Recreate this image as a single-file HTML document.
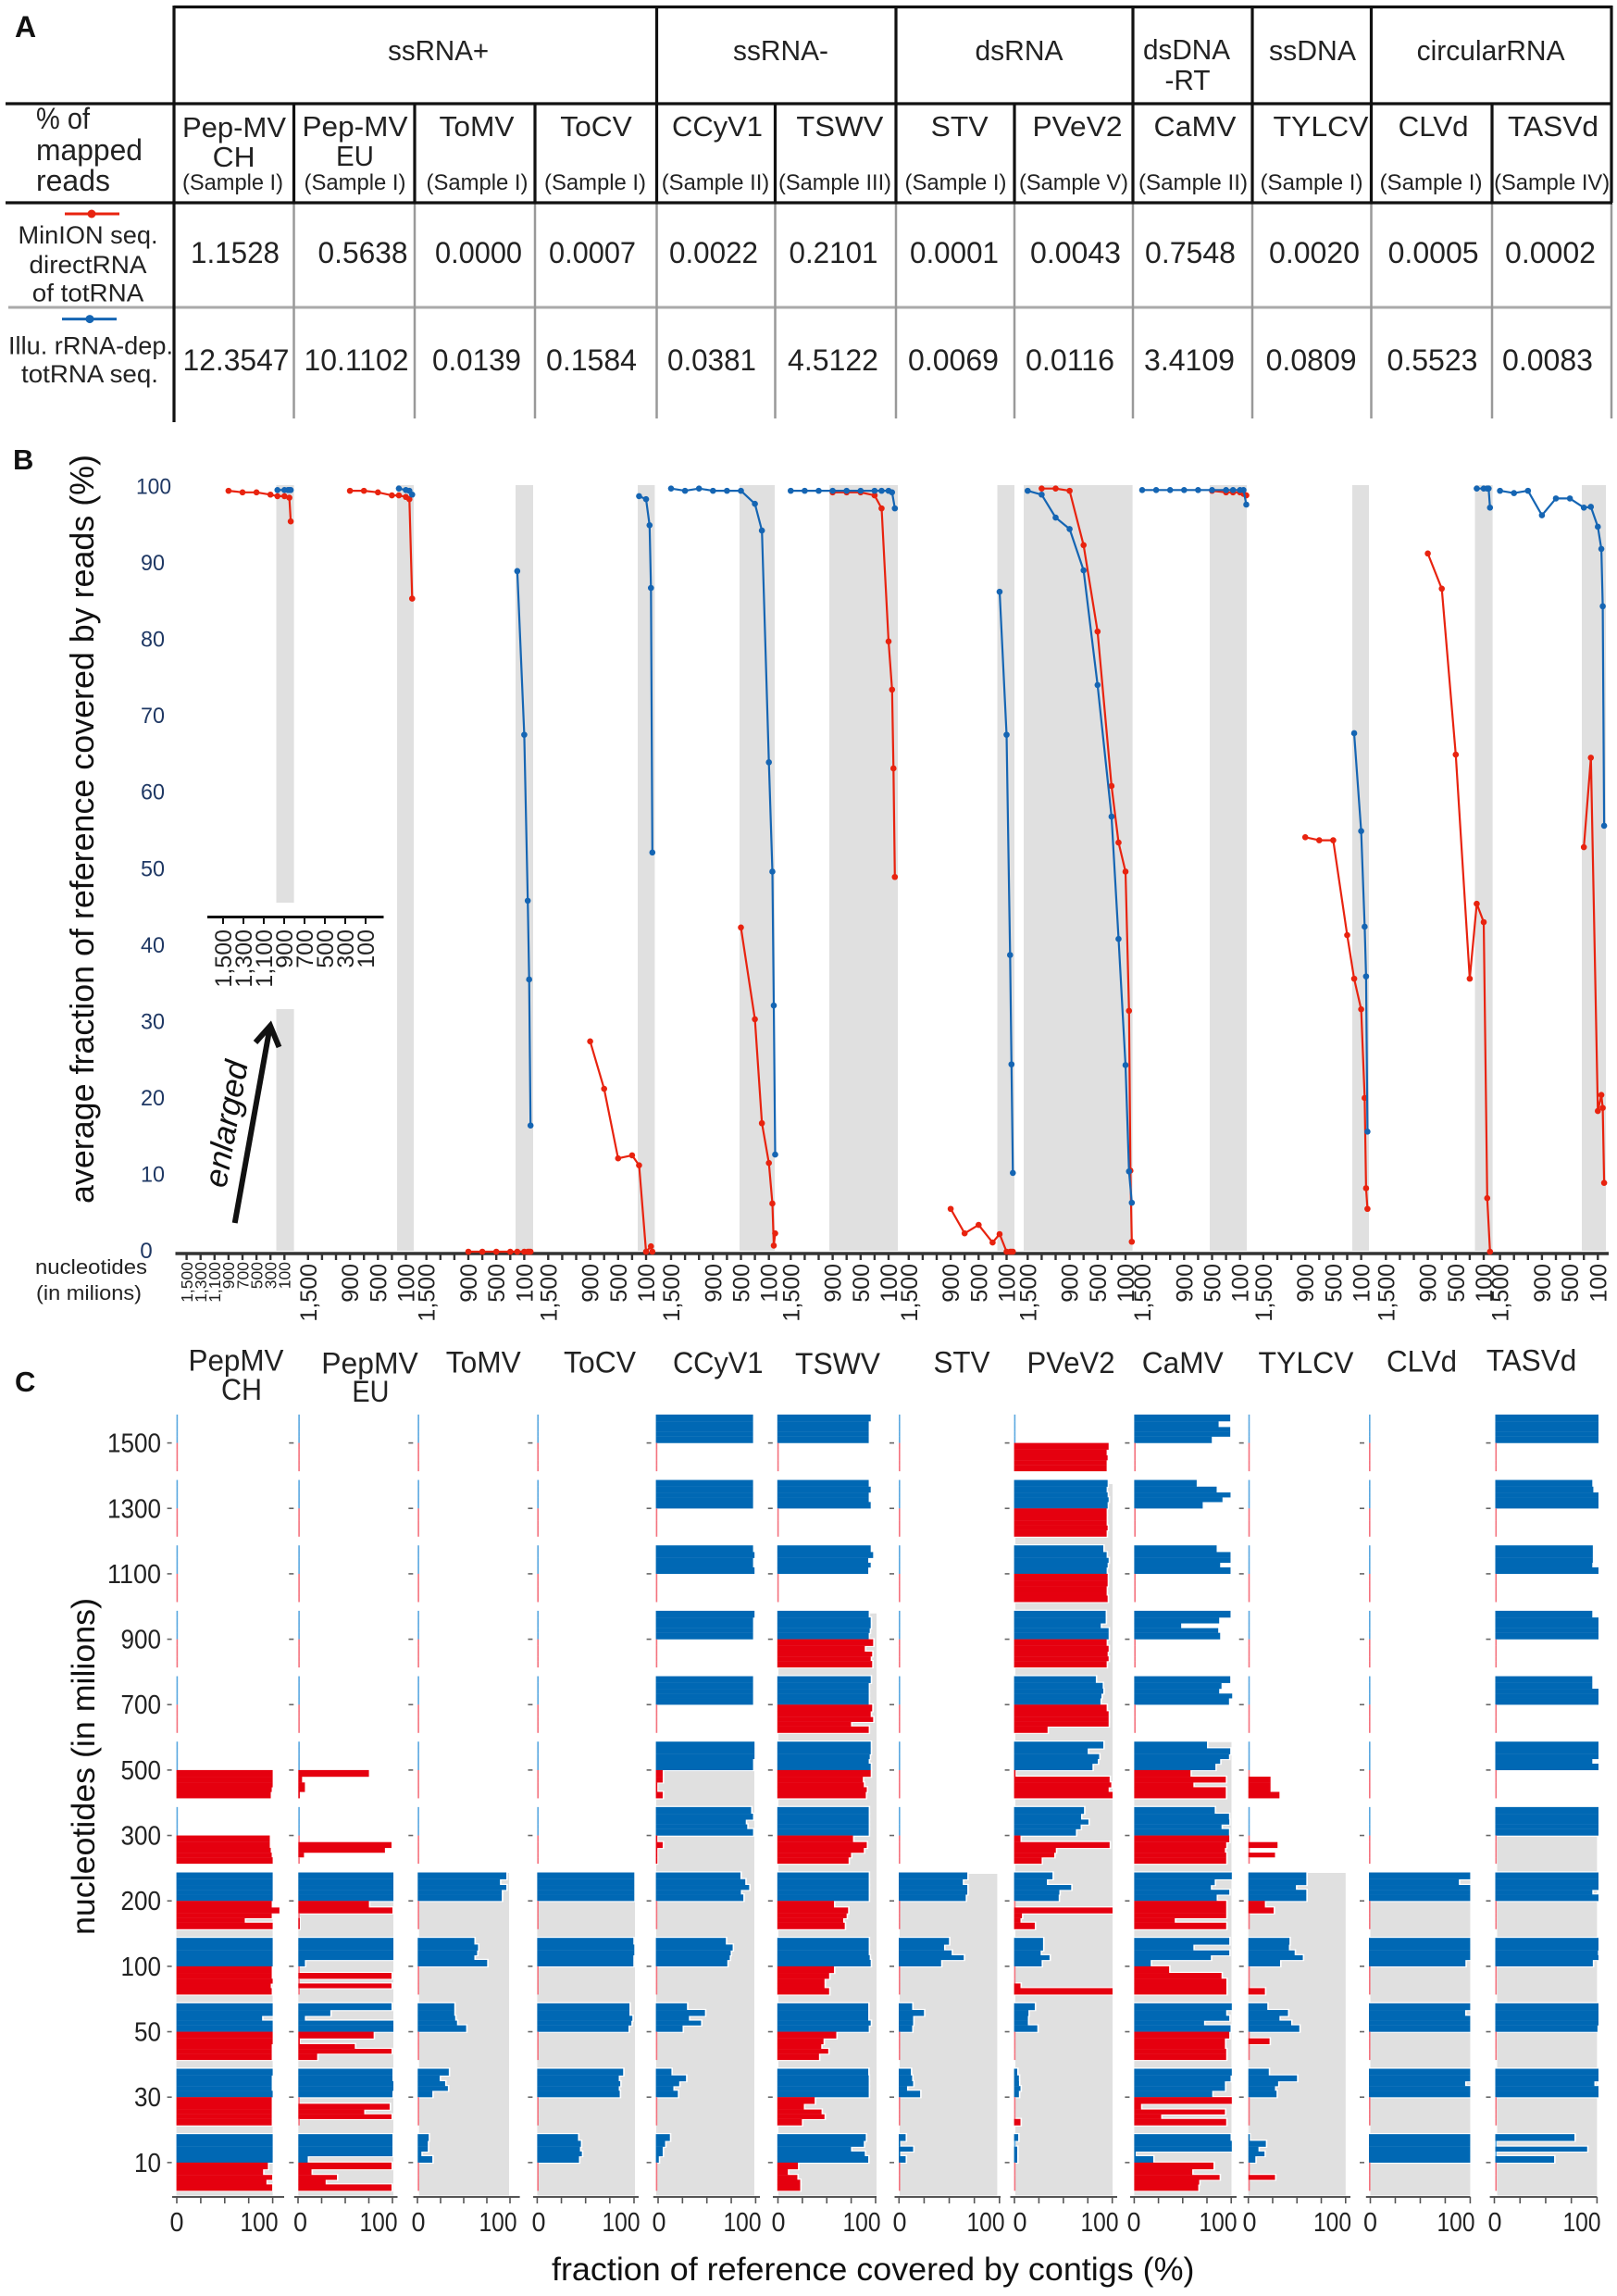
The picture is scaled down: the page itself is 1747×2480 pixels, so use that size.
<!DOCTYPE html>
<html lang="en">
<head>
<meta charset="utf-8">
<title>Virus coverage figure</title>
<style>
html,body{margin:0;padding:0;background:#fff;}
svg{display:block;font-family:"Liberation Sans",sans-serif;}
#table-a text{fill:#222;}
</style>
</head>
<body>
<svg id="figure" xmlns="http://www.w3.org/2000/svg" width="1747" height="2480" viewBox="0 0 1747 2480">
<rect x="0" y="0" width="1747" height="2480" fill="#fff"/>
<text x="16" y="40" font-size="32" font-weight="bold" fill="#111">A</text>
<text x="14" y="507" font-size="31" font-weight="bold" fill="#111">B</text>
<text x="16" y="1503" font-size="31" font-weight="bold" fill="#111">C</text>

<g id="table-a">
<g stroke="#999" stroke-width="2.5">
<line x1="9" y1="332" x2="1741" y2="332" stroke="#aaa" stroke-width="3"/>
<line x1="317.5" y1="220" x2="317.5" y2="452"/>
<line x1="448" y1="220" x2="448" y2="452"/>
<line x1="578" y1="220" x2="578" y2="452"/>
<line x1="709.5" y1="220" x2="709.5" y2="452"/>
<line x1="837.5" y1="220" x2="837.5" y2="452"/>
<line x1="968" y1="220" x2="968" y2="452"/>
<line x1="1096" y1="220" x2="1096" y2="452"/>
<line x1="1224" y1="220" x2="1224" y2="452"/>
<line x1="1353" y1="220" x2="1353" y2="452"/>
<line x1="1481.5" y1="220" x2="1481.5" y2="452"/>
<line x1="1612" y1="220" x2="1612" y2="452"/>
<line x1="1741" y1="220" x2="1741" y2="452"/>
</g>
<g stroke="#111" stroke-width="3.2">
<line x1="188" y1="7.5" x2="1742" y2="7.5"/>
<line x1="6" y1="112" x2="1742" y2="112"/>
<line x1="6" y1="219" x2="1742" y2="219"/>
<line x1="188" y1="6" x2="188" y2="456"/>
<line x1="709.5" y1="6" x2="709.5" y2="219"/>
<line x1="968" y1="6" x2="968" y2="219"/>
<line x1="1224" y1="6" x2="1224" y2="219"/>
<line x1="1353" y1="6" x2="1353" y2="219"/>
<line x1="1481.5" y1="6" x2="1481.5" y2="219"/>
<line x1="1741" y1="6" x2="1741" y2="219"/>
<line x1="317.5" y1="112" x2="317.5" y2="219"/>
<line x1="448" y1="112" x2="448" y2="219"/>
<line x1="578" y1="112" x2="578" y2="219"/>
<line x1="837.5" y1="112" x2="837.5" y2="219"/>
<line x1="1096" y1="112" x2="1096" y2="219"/>
<line x1="1612" y1="112" x2="1612" y2="219"/>
</g>
<g font-size="31" text-anchor="middle">
<text x="473.6" y="65" textLength="109" lengthAdjust="spacingAndGlyphs">ssRNA+</text>
<text x="843.5" y="65" textLength="103" lengthAdjust="spacingAndGlyphs">ssRNA-</text>
<text x="1101" y="65" textLength="95" lengthAdjust="spacingAndGlyphs">dsRNA</text>
<text x="1282" y="64" textLength="94" lengthAdjust="spacingAndGlyphs">dsDNA</text>
<text x="1283" y="97" textLength="49" lengthAdjust="spacingAndGlyphs">-RT</text>
<text x="1418" y="65" textLength="94" lengthAdjust="spacingAndGlyphs">ssDNA</text>
<text x="1610.6" y="65" textLength="160" lengthAdjust="spacingAndGlyphs">circularRNA</text>
</g>
<g font-size="32">
<text x="39" y="139" textLength="58" lengthAdjust="spacingAndGlyphs">% of</text>
<text x="39" y="173" textLength="115" lengthAdjust="spacingAndGlyphs">mapped</text>
<text x="39" y="206" textLength="80" lengthAdjust="spacingAndGlyphs">reads</text>
</g>
<g font-size="31" text-anchor="middle">
<text x="253" y="148" textLength="112" lengthAdjust="spacingAndGlyphs">Pep-MV</text>
<text x="252.6" y="180" textLength="46" lengthAdjust="spacingAndGlyphs">CH</text>
<text x="383.5" y="147" textLength="114" lengthAdjust="spacingAndGlyphs">Pep-MV</text>
<text x="383.5" y="179" textLength="41" lengthAdjust="spacingAndGlyphs">EU</text>
<text x="515" y="147" textLength="81" lengthAdjust="spacingAndGlyphs">ToMV</text>
<text x="644" y="147" textLength="77.5" lengthAdjust="spacingAndGlyphs">ToCV</text>
<text x="775" y="147" textLength="98" lengthAdjust="spacingAndGlyphs">CCyV1</text>
<text x="907.4" y="147" textLength="94" lengthAdjust="spacingAndGlyphs">TSWV</text>
<text x="1036.6" y="147" textLength="62" lengthAdjust="spacingAndGlyphs">STV</text>
<text x="1164" y="147" textLength="97" lengthAdjust="spacingAndGlyphs">PVeV2</text>
<text x="1291" y="147" textLength="89" lengthAdjust="spacingAndGlyphs">CaMV</text>
<text x="1427" y="147" textLength="103" lengthAdjust="spacingAndGlyphs">TYLCV</text>
<text x="1548.6" y="147" textLength="76" lengthAdjust="spacingAndGlyphs">CLVd</text>
<text x="1678" y="147" textLength="98" lengthAdjust="spacingAndGlyphs">TASVd</text>
</g>
<g font-size="24" text-anchor="middle">
<text x="251.5" y="205" textLength="109" lengthAdjust="spacingAndGlyphs">(Sample I)</text>
<text x="383.5" y="205" textLength="110" lengthAdjust="spacingAndGlyphs">(Sample I)</text>
<text x="515.5" y="205" textLength="110" lengthAdjust="spacingAndGlyphs">(Sample I)</text>
<text x="643" y="205" textLength="110" lengthAdjust="spacingAndGlyphs">(Sample I)</text>
<text x="773" y="205" textLength="116.5" lengthAdjust="spacingAndGlyphs">(Sample II)</text>
<text x="902" y="205" textLength="122" lengthAdjust="spacingAndGlyphs">(Sample III)</text>
<text x="1032.5" y="205" textLength="110" lengthAdjust="spacingAndGlyphs">(Sample I)</text>
<text x="1160" y="205" textLength="118" lengthAdjust="spacingAndGlyphs">(Sample V)</text>
<text x="1289" y="205" textLength="118" lengthAdjust="spacingAndGlyphs">(Sample II)</text>
<text x="1417" y="205" textLength="111" lengthAdjust="spacingAndGlyphs">(Sample I)</text>
<text x="1546" y="205" textLength="111" lengthAdjust="spacingAndGlyphs">(Sample I)</text>
<text x="1676.6" y="205" textLength="125" lengthAdjust="spacingAndGlyphs">(Sample IV)</text>
</g>
<g>
<line x1="70" y1="231" x2="129" y2="231" stroke="#e8230f" stroke-width="3"/>
<circle cx="99" cy="231" r="4.5" fill="#e8230f"/>
</g>
<g font-size="27" text-anchor="middle">
<text x="95" y="263" textLength="151" lengthAdjust="spacingAndGlyphs">MinION seq.</text>
<text x="95" y="295" textLength="127" lengthAdjust="spacingAndGlyphs">directRNA</text>
<text x="95" y="325.5" textLength="120.5" lengthAdjust="spacingAndGlyphs">of totRNA</text>
</g>
<g>
<line x1="67" y1="344.6" x2="126" y2="344.6" stroke="#1565b3" stroke-width="3"/>
<circle cx="97" cy="344.6" r="4.5" fill="#1565b3"/>
</g>
<g font-size="27" text-anchor="middle">
<text x="98" y="382.5" textLength="178" lengthAdjust="spacingAndGlyphs">Illu. rRNA-dep.</text>
<text x="97" y="413" textLength="148" lengthAdjust="spacingAndGlyphs">totRNA seq.</text>
</g>
<g font-size="32" text-anchor="middle">
<text x="254" y="284" textLength="96" lengthAdjust="spacingAndGlyphs">1.1528</text>
<text x="392" y="284" textLength="97" lengthAdjust="spacingAndGlyphs">0.5638</text>
<text x="517" y="284" textLength="94" lengthAdjust="spacingAndGlyphs">0.0000</text>
<text x="640" y="284" textLength="94" lengthAdjust="spacingAndGlyphs">0.0007</text>
<text x="771" y="284" textLength="96" lengthAdjust="spacingAndGlyphs">0.0022</text>
<text x="900.5" y="284" textLength="96" lengthAdjust="spacingAndGlyphs">0.2101</text>
<text x="1031" y="284" textLength="96" lengthAdjust="spacingAndGlyphs">0.0001</text>
<text x="1162" y="284" textLength="98" lengthAdjust="spacingAndGlyphs">0.0043</text>
<text x="1286" y="284" textLength="98" lengthAdjust="spacingAndGlyphs">0.7548</text>
<text x="1420" y="284" textLength="98" lengthAdjust="spacingAndGlyphs">0.0020</text>
<text x="1548.6" y="284" textLength="98" lengthAdjust="spacingAndGlyphs">0.0005</text>
<text x="1675" y="284" textLength="98" lengthAdjust="spacingAndGlyphs">0.0002</text>
</g>
<g font-size="32" text-anchor="middle">
<text x="255" y="400" textLength="115" lengthAdjust="spacingAndGlyphs">12.3547</text>
<text x="385" y="400" textLength="113" lengthAdjust="spacingAndGlyphs">10.1102</text>
<text x="515" y="400" textLength="96" lengthAdjust="spacingAndGlyphs">0.0139</text>
<text x="639" y="400" textLength="98" lengthAdjust="spacingAndGlyphs">0.1584</text>
<text x="769" y="400" textLength="96" lengthAdjust="spacingAndGlyphs">0.0381</text>
<text x="900" y="400" textLength="98" lengthAdjust="spacingAndGlyphs">4.5122</text>
<text x="1030" y="400" textLength="98" lengthAdjust="spacingAndGlyphs">0.0069</text>
<text x="1156" y="400" textLength="96" lengthAdjust="spacingAndGlyphs">0.0116</text>
<text x="1285" y="400" textLength="98" lengthAdjust="spacingAndGlyphs">3.4109</text>
<text x="1416.6" y="400" textLength="98" lengthAdjust="spacingAndGlyphs">0.0809</text>
<text x="1547.5" y="400" textLength="98" lengthAdjust="spacingAndGlyphs">0.5523</text>
<text x="1672" y="400" textLength="98" lengthAdjust="spacingAndGlyphs">0.0083</text>
</g>
</g>

<g id="panel-b"></g>
<text transform="rotate(-90 101 1300)" x="101" y="1300" font-size="36" fill="#111" textLength="809" lengthAdjust="spacingAndGlyphs">average fraction of reference covered by reads (%)</text>
<text x="38" y="1376" font-size="22" fill="#222" textLength="121" lengthAdjust="spacingAndGlyphs">nucleotides</text>
<text x="39" y="1404" font-size="22" fill="#222" textLength="114" lengthAdjust="spacingAndGlyphs">(in milions)</text>

<g id="panel-c"></g>
<g font-size="32" text-anchor="middle" fill="#222">
<text x="255" y="1480.7" textLength="103" lengthAdjust="spacingAndGlyphs">PepMV</text>
<text x="261" y="1512" textLength="44" lengthAdjust="spacingAndGlyphs">CH</text>
<text x="399.5" y="1483.6" textLength="104.5" lengthAdjust="spacingAndGlyphs">PepMV</text>
<text x="400.4" y="1514" textLength="40" lengthAdjust="spacingAndGlyphs">EU</text>
<text x="522.3" y="1482.5" textLength="81" lengthAdjust="spacingAndGlyphs">ToMV</text>
<text x="648" y="1482.5" textLength="78" lengthAdjust="spacingAndGlyphs">ToCV</text>
<text x="775.7" y="1483" textLength="97.5" lengthAdjust="spacingAndGlyphs">CCyV1</text>
<text x="905" y="1484" textLength="92" lengthAdjust="spacingAndGlyphs">TSWV</text>
<text x="1039" y="1482.7" textLength="61" lengthAdjust="spacingAndGlyphs">STV</text>
<text x="1157" y="1483" textLength="95" lengthAdjust="spacingAndGlyphs">PVeV2</text>
<text x="1277.8" y="1483" textLength="88" lengthAdjust="spacingAndGlyphs">CaMV</text>
<text x="1411" y="1483" textLength="103" lengthAdjust="spacingAndGlyphs">TYLCV</text>
<text x="1536" y="1481.7" textLength="76" lengthAdjust="spacingAndGlyphs">CLVd</text>
<text x="1654.5" y="1480.7" textLength="97.6" lengthAdjust="spacingAndGlyphs">TASVd</text>
</g>
<text transform="rotate(-90 101.8 2090)" x="101.8" y="2090" font-size="35" fill="#111" textLength="364" lengthAdjust="spacingAndGlyphs">nucleotides (in milions)</text>
<text x="596" y="2463" font-size="35" fill="#111" textLength="694.5" lengthAdjust="spacingAndGlyphs">fraction of reference covered by contigs (%)</text>
</svg>

<script>
const N = null;
const nucleotides = [1500,1300,1100,900,700,500,300,200,100,50,30,10];
const bYTicks = [0,10,20,30,40,50,60,70,80,90,100];
const bXTicks = [1500,1300,1100,900,700,500,300,100];
const bXBigLabels = [1500,900,500,100];
const bInsetLabels = ['1,500','1,300','1,100','900','700','500','300','100'];

const bRedPepMVCH = [N,N,N,99.5,99.3,99.3,99,98.8,98.8,N,98.6,95.5];
const bBluePepMVCH = [N,N,N,N,N,N,N,99.6,99.6,99.6,99.6,99.6];
const bRedPepMVEU = [N,N,N,99.5,99.5,99.3,98.9,98.9,98.7,98.4,N,85.4];
const bBluePepMVEU = [N,N,N,N,N,N,N,99.8,99.6,99.5,N,99];
const bRedToMV = [N,N,N,0,0,0,0,0,0,0,0,0];
const bBlueToMV = [N,N,N,N,N,N,N,89,67.6,45.9,35.6,16.5];
const bRedToCV = [N,N,N,27.5,21.3,12.2,12.6,11.3,0,N,0.7,0];
const bBlueToCV = [N,N,N,N,N,N,N,98.8,98.4,95,86.8,52.2];
const bRedCCyV1 = [N,N,N,N,N,42.4,30.4,16.8,11.6,6.3,0.8,2.4];
const bBlueCCyV1 = [99.8,99.5,99.8,99.5,99.5,99.5,97.8,94.3,64,49.7,32.2,12.7];
const bRedTSWV = [N,N,N,99.3,99.3,99.3,98.9,97.2,79.8,73.5,63.2,49];
const bBlueTSWV = [99.5,99.5,99.5,99.5,99.5,99.5,99.5,99.5,99.5,99.3,N,97.2];
const bRedSTV = [N,N,N,5.6,2.4,3.5,1.2,2.3,0,0,0,0];
const bBlueSTV = [N,N,N,N,N,N,N,86.3,67.6,38.8,24.5,10.3];
const bRedPVeV2 = [N,99.8,99.8,99.5,92.4,81.1,60.9,53.5,49.7,31.5,10.6,1.3];
const bBluePVeV2 = [99.5,99,96,94.5,89.1,74.1,56.9,40.9,24.4,10.5,N,6.4];
const bRedCaMV = [N,N,N,N,N,99.5,99.3,99.3,99.3,99.1,N,98.9];
const bBlueCaMV = [99.6,99.6,99.6,99.6,99.6,99.6,99.6,99.6,99.6,99.6,N,97.7];
const bRedTYLCV = [N,N,N,54.2,53.8,53.8,41.4,35.7,31.7,20.1,8.3,5.6];
const bBlueTYLCV = [N,N,N,N,N,N,N,67.8,55,42.5,36,15.7];
const bRedCLVd = [N,N,N,91.3,86.7,65,35.7,45.5,43.1,7,N,0];
const bBlueCLVd = [N,N,N,N,N,N,N,99.8,99.8,99.8,99.8,97.3];
const bRedTASVd = [N,N,N,N,N,N,52.9,64.6,18.4,20.5,18.8,9];
const bBlueTASVd = [99.5,99.2,99.5,96.3,98.5,98.5,97.3,97.4,94.8,91.9,84.4,55.7];

const bRedSeries = [bRedPepMVCH,bRedPepMVEU,bRedToMV,bRedToCV,bRedCCyV1,bRedTSWV,bRedSTV,bRedPVeV2,bRedCaMV,bRedTYLCV,bRedCLVd,bRedTASVd];
const bBlueSeries = [bBluePepMVCH,bBluePepMVEU,bBlueToMV,bBlueToCV,bBlueCCyV1,bBlueTSWV,bBlueSTV,bBluePVeV2,bBlueCaMV,bBlueTYLCV,bBlueCLVd,bBlueTASVd];

const Z = [0,0,0,0,0];
const F = [100,100,100,100,100];
const rowLabels = ['1500','1300','1100','900','700','500','300','200','100','50','30','10'];
const cXTickValues = [0,25,50,75,100];
const cXLabels = ['0','100'];

const cBluePepMVCH = [Z,Z,Z,Z,Z,Z,Z,F,F,[100,100,89,100,100],[100,99,99,99,100],F];
const cRedPepMVCH = [Z,Z,Z,Z,Z,[100,100,100,99,98],[97,97,98,99,100],[99,107,99,71,100],[99,99,100,98,99],[100,100,99,99,99],[99,99,99,99,99],[95,90,99.5,93.5,99.5]];
const cBluePepMVEU = [Z,Z,Z,Z,Z,Z,Z,[101,101,101,101,101],[101,101,101,101,7],[99,34,7,101,101],[100,100,101,101,100],[100,100,100,100,10]];
const cRedPepMVEU = [Z,Z,Z,Z,Z,[75,4,7,7,1],[0,99,92,6,0],[75,100,0,1,1],[0,99,0,99,0],[80,1,60,99,20],[0,97,70,99,0],[99,14,41,29,99]];
const cBlueToMV = [Z,Z,Z,Z,Z,Z,Z,[97,90,97,92,92],[62,66,65,62,76],[40,40,41,43,53],[34,24,30,33,16],[12,11,11,4,16]];
const cRedToMV = [Z,Z,Z,Z,Z,Z,Z,Z,Z,Z,Z,Z];
const cBlueToCV = [Z,Z,Z,Z,Z,Z,Z,F,[99,100,100,99,99],[95,95,98,97,94],[88.5,84,85.5,84,85],[42,45,44,46,43]];
const cRedToCV = [Z,Z,Z,Z,Z,Z,Z,Z,Z,Z,Z,Z];
const cBlueCCyV1 = [F,F,[100,101.5,100,100,101.5],[101.5,100,100,100,100],F,[101.5,101.5,101.5,100,100],[98,100,92.5,94,100],[87,92,96,87.5,90],[72,79,77,76,73.5],[32,50.5,34,46.5,27.5],[16,31,24,18,22.6],[14.4,9.5,7,7,3]];
const cRedCCyV1 = [Z,Z,Z,Z,Z,[7,7,1,1,7],[1,7,1,1,1],Z,Z,Z,Z,Z];
const cBlueTSWV = [[95,93,93,93,93],[93,95,93,93,95],[95,97.5,92.5,95,92.5],[93,95,95,94,93],[95,93,93,93,93],[95,95,94,93,95],[93,93,93,93,93],[93,93,93,93,93],[93,93,93,94,95],[92.5,92.5,92.5,95,93],[92.5,93,93,93,93],[90,88,75,89,92.5]];
const cRedTSWV = [Z,Z,Z,[97.5,89,96.5,95,96.5],[96.5,95,97.5,75,93],[95,87,88,91,90],[77,91,88,75,72.5],[57.6,72,70.5,67,68.6],[57.6,52.7,48,48,52.7],[60,47,44.7,51.8,42.4],[38,27,45,48,25],[21,10.7,20.4,23.3,23.3]];
const cBlueSTV = [Z,Z,Z,Z,Z,Z,Z,[69.6,65,69.6,69.6,68],[51,46,53.7,66,43],[13.6,25.6,14.6,14.6,13.6],[12.3,13.6,14.6,8.4,21.7],[7,0.6,14.6,0.6,7]];
const cRedSTV = [Z,Z,Z,Z,Z,Z,Z,Z,Z,Z,Z,Z];
const cBluePVeV2 = [Z,[95,94,95,96,95],[90.6,94,96,95,94],[93,93,88,96,96],[83,90,90.6,88.7,87.7],[90.6,74.8,86.4,85,79.6],[71,68,75.5,67.6,62.8],[39,33.3,58,46,45.3],[29.4,29.4,27,36,28],[21,14.6,14,14,23.6],[3.2,4.9,5,6.5,4.9],[4.2,0,3.2,3.2,3.2]];
const cRedPVeV2 = [[96,94,95,94,94],[94,94,94,95,94],[95,95,94,94,95],[94,96,95,96,94],[94,96,96,96,34],[1,97,98.7,96,100],[6.5,97,42.4,40.8,28],[0,100,8,6.5,21],[0,0,0,6.5,100],Z,[0,0,0,0,6.5],Z];
const cBlueCaMV = [[99,87,99,99,80],[64.4,85,99.3,91,70.6],[85,99.3,99.3,88.6,99.3],[99.3,87.6,48.4,86.6,88.6],[99,90,87.6,101,97.7],[75,99,97.7,88.6,83.7],[83,97.7,98,90,97.7],[100.6,83,79,98,85],[98,61,98,79,17],[100.6,94.8,98,72,99.3],[100.6,99.3,93.5,93.5,80.4],[99.3,100.6,100.6,0.5,19.6]];
const cRedCaMV = [Z,Z,Z,Z,Z,[58,94.4,61,94.4,94.4],[98,94.8,93.5,94.8,94.8],[94.8,94.8,94.8,41.8,94.8],[36,90,95,95,95],[98,93.5,93.5,94.8,94.8],[100.6,7,93.5,27.8,94.8],[81.7,59.8,88,67,66]];
const cBlueTYLCV = [Z,Z,Z,Z,Z,Z,Z,[59.6,59.6,48.9,59.6,59.6],[42.3,41.7,47.6,56,32.6],[19.5,40.7,32,44,52.4],[21,50,30.6,27.4,29],[1,18,10.4,16.6,7.2]];
const cRedTYLCV = [Z,Z,Z,Z,Z,[0,22.8,22.8,22.8,32],[0,30,0,27.4,0],[17,26,0,0,0],[0,0,0,0,17],[0,21.8,0,0,0],Z,[0,0,27.4,0,0]];
const cBlueCLVd = [Z,Z,Z,Z,Z,Z,Z,[100,88.8,100,100,100],[100,100,100,100,95.3],[100,95,100,100,100],[100,100,95,100,100],F];
const cRedCLVd = [Z,Z,Z,Z,Z,Z,Z,Z,Z,Z,Z,Z];
const cBlueTASVd = [F,[94,95,100,100,100],[94.5,94.5,94.5,94,100],[94,100,100,100,100],[94,94,100,100,100],[100,100,100,94,100],F,[100,100,100,94,100],[100,100,99.5,100,94.5],[100,100,100,100,99],[100,100,96,100,100],[76.7,0,89,0,57]];
const cRedTASVd = [Z,Z,Z,Z,Z,Z,Z,Z,Z,Z,Z,Z];

const cBlueSeries = [cBluePepMVCH,cBluePepMVEU,cBlueToMV,cBlueToCV,cBlueCCyV1,cBlueTSWV,cBlueSTV,cBluePVeV2,cBlueCaMV,cBlueTYLCV,cBlueCLVd,cBlueTASVd];
const cRedSeries = [cRedPepMVCH,cRedPepMVEU,cRedToMV,cRedToCV,cRedCCyV1,cRedTSWV,cRedSTV,cRedPVeV2,cRedCaMV,cRedTYLCV,cRedCLVd,cRedTASVd];

/* ---- layout (not data) ---- */
const layoutB = {
  origin100: [307.3,438.5,566.4,698,830.7,960,1087.5,1216,1339.7,1470.6,1603,1726.3],
  bands: [[298.5,317.6],[429,447],[557,576],[689,707.4],[799,837],[896,970],[1077.5,1096],[1106,1223.6],[1307,1347],[1461,1479],[1593.5,1612.6],[1709,1735]]
};
const layoutC = [
  {x0:190.6,x1:294.6,gL:190.6,gR:294.6,aL:186,aR:307,t0:191,t1:294.6,l0:191,l1:280,top:2023},
  {x0:322.3,x1:424,gL:322.3,gR:425,aL:318,aR:429.5,t0:322,t1:424,l0:324.5,l1:409,top:2023},
  {x0:451.3,x1:550,gL:452.7,gR:550,aL:446.5,aR:561.6,t0:451,t1:551,l0:452,l1:538,top:2023},
  {x0:580.4,x1:685.3,gL:580.4,gR:686,aL:576,aR:690,t0:580.4,t1:685,l0:582,l1:671,top:2023},
  {x0:708.6,x1:813.6,gL:709,gR:815,aL:705.8,aR:821,t0:711,t1:816.4,l0:712,l1:802,top:1911},
  {x0:839.8,x1:946,gL:841,gR:947,aL:835,aR:947,t0:840.5,t1:946,l0:841,l1:931,top:1742.7},
  {x0:971,x1:1077.4,gL:972,gR:1077.4,aL:966.5,aR:1081,t0:971.3,t1:1079.8,l0:972,l1:1065,top:2024},
  {x0:1095.6,x1:1202,gL:1097,gR:1202,aL:1091.5,aR:1207,t0:1096,t1:1201.7,l0:1102,l1:1188,top:1603},
  {x0:1225.4,x1:1330.2,gL:1225.4,gR:1330.5,aL:1221,aR:1336,t0:1225.4,t1:1330.2,l0:1225,l1:1316,top:1881.7},
  {x0:1348.7,x1:1453.8,gL:1348.7,gR:1453.8,aL:1343.6,aR:1459,t0:1348.7,t1:1453.8,l0:1350,l1:1439.5,top:2023},
  {x0:1479,x1:1588.4,gL:1480.5,gR:1588.4,aL:1475.8,aR:1588.5,t0:1480.5,t1:1588.4,l0:1480.5,l1:1573,top:2023},
  {x0:1615.5,x1:1727,gL:1617.5,gR:1725.4,aL:1609.6,aR:1725.4,t0:1614.5,t1:1725.4,l0:1615,l1:1709,top:1981.7}
];
const subFractions = [0.235,0.205,0.17,0.165,0.225];

const NS = 'http://www.w3.org/2000/svg';
function mk(parent, tag, attrs, name) {
  const el = document.createElementNS(NS, tag);
  for (const k in attrs) el.setAttribute(k, attrs[k]);
  
  
  parent.appendChild(el);
  return el;
}
function txt(parent, str, attrs, name) {
  const el = mk(parent, 'text', attrs, name);
  if (attrs.textLength) el.setAttribute('lengthAdjust', 'spacingAndGlyphs');
  el.textContent = str;
  return el;
}

/* ---- Panel B axis functions ---- */
const bY = v => 1352 - 8.26 * v;
const bX = (facet, n) => layoutB.origin100[facet] + (100 - n) * 0.0755;

function drawPanelB() {
  const g = document.getElementById('panel-b');
  layoutB.bands.forEach(b => {
    mk(g, 'rect', {x:b[0], y:524, width:b[1]-b[0], height:827, fill:'#e0e0e0'}, 'enlarged-region-band');
  });
  /* inset break */
  mk(g, 'rect', {x:296, y:975, width:24, height:115, fill:'#fff'}, 'inset-break');

  /* main axis */
  mk(g, 'line', {x1:189.5, y1:1354, x2:1738, y2:1354, stroke:'#333', 'stroke-width':3.5}, 'panel-b-x-axis-line');
  layoutB.origin100.forEach((o, f) => {
    bXTicks.forEach(n => {
      const x = bX(f, n);
      mk(g, 'line', {x1:x, y1:1354, x2:x, y2:1361, stroke:'#333', 'stroke-width':2.4}, 'x-tick');
      const small = f === 0;
      if (small || bXBigLabels.indexOf(n) >= 0) {
        const s = small ? 17.5 : 25;
        const lx = x + s * 0.36;
        const ly = small ? 1363 : 1365;
        const label = n >= 1000 ? String(n).replace(/(\d)(\d{3})$/, '$1,$2') : String(n);
        txt(g, label, {x:lx, y:ly, 'font-size':s, 'text-anchor':'end', fill:'#222',
          transform:'rotate(-90 '+lx+' '+ly+')'}, 'x-tick-label');
      }
    });
  });

  /* y ticks */
  bYTicks.forEach(v => {
    const cy = 525 + (100 - v) * 8.256;
    const cx = v === 100 ? 166 : (v === 0 ? 158 : 165);
    const w = v === 100 ? 38 : (v === 0 ? 13.5 : 26);
    txt(g, String(v), {x:cx, y:cy + 8.5, 'font-size':24, 'text-anchor':'middle', fill:'#1f3864', textLength:w}, 'y-tick-label');
  });

  /* series */
  function drawSeries(values, f, color, name) {
    const pts = [];
    values.forEach((v, i) => { if (v !== null) pts.push([bX(f, nucleotides[i]), bY(v)]); });
    mk(g, 'polyline', {points: pts.map(p => p[0].toFixed(1)+','+p[1].toFixed(1)).join(' '), fill:'none', stroke:color, 'stroke-width':2.2, 'stroke-linejoin':'round'}, name + '-line');
    pts.forEach(p => {
      mk(g, 'circle', {cx:p[0], cy:p[1], r:3.3, fill:color}, name + '-point');
    });
  }
  bRedSeries.forEach((s, f) => drawSeries(s, f, '#e8230f', 'minion-series'));
  bBlueSeries.forEach((s, f) => drawSeries(s, f, '#1565b3', 'illumina-series'));

  /* inset axis */
  mk(g, 'line', {x1:224, y1:990.5, x2:414.5, y2:990.5, stroke:'#111', 'stroke-width':3}, 'inset-axis-line');
  bInsetLabels.forEach((lab, i) => {
    const x = 241 + i * 22;
    mk(g, 'line', {x1:x, y1:990.5, x2:x, y2:998, stroke:'#111', 'stroke-width':2}, 'inset-tick');
    const lx = x + 9, ly = 1004;
    txt(g, lab, {x:lx, y:ly, 'font-size':25, 'text-anchor':'end', fill:'#222', transform:'rotate(-90 '+lx+' '+ly+')'}, 'inset-tick-label');
  });

  /* enlarged arrow */
  mk(g, 'line', {x1:253.7, y1:1321, x2:291.5, y2:1110, stroke:'#111', 'stroke-width':6}, 'enlarged-arrow-shaft');
  mk(g, 'polyline', {points:'276,1126 292,1108 301.5,1131', fill:'none', stroke:'#111', 'stroke-width':6}, 'enlarged-arrow-head');
  txt(g, 'enlarged', {x:0, y:0, 'font-size':35, 'font-style':'italic', 'text-anchor':'middle', fill:'#111', textLength:138,
    transform:'translate(256 1216) rotate(-80)'}, 'enlarged-label');
}

/* ---- Panel C axis functions ---- */
const cRowY = i => 1558.6 + i * 70.66;
const cX = (lay, v) => lay.x0 + (lay.x1 - lay.x0) * v / 100;

function drawPanelC() {
  const g = document.getElementById('panel-c');
  layoutC.forEach(lay => {
    mk(g, 'rect', {x:lay.gL, y:lay.top, width:lay.gR-lay.gL, height:2371.5-lay.top, fill:'#e0e0e0'}, 'facet-background');
  });
  const halo = mk(g, 'g', {fill:'#fff'}, 'bar-halo-layer');
  const bars = mk(g, 'g', {}, 'bar-layer');

  function drawBars(rows, lay, up, color, zeroColor, name) {
    rows.forEach((vals, r) => {
      let y = up ? cRowY(r) - 30.7 : cRowY(r);
      const total = up ? 30.7 : 30.4;
      vals.forEach((v, s) => {
        const h = total * subFractions[s];
        const w = cX(lay, v) - lay.x0;
        if (v > 0) {
          mk(halo, 'rect', {x:lay.x0, y:y-1.2, width:w+1.6, height:h+2.4}, 'bar-halo');
        }
        mk(bars, 'rect', {x:lay.x0, y:y, width:Math.max(w,1.6), height:h+0.15, fill: v > 0 ? color : zeroColor}, name);
        y += h;
      });
    });
  }
  layoutC.forEach((lay, f) => {
    drawBars(cBlueSeries[f], lay, true, '#0068b4', '#5aa8e0', 'illumina-contig-bar');
    drawBars(cRedSeries[f], lay, false, '#e5000f', '#f4727e', 'minion-contig-bar');

    rowLabels.forEach((lab, r) => {
      const y = cRowY(r);
      mk(g, 'line', {x1:lay.x0-10, y1:y, x2:lay.x0-5, y2:y, stroke:'#666', 'stroke-width':1.6}, 'y-tick');
    });

    mk(g, 'line', {x1:lay.aL, y1:2373, x2:lay.aR, y2:2373, stroke:'#555', 'stroke-width':2}, 'facet-x-axis-line');
    cXTickValues.forEach(t => {
      const x = lay.t0 + (lay.t1 - lay.t0) * t / 100;
      mk(g, 'line', {x1:x, y1:2373, x2:x, y2:2380, stroke:'#555', 'stroke-width':1.6}, 'facet-x-tick');
    });
    txt(g, cXLabels[0], {x:lay.l0, y:2410, 'font-size':29, 'text-anchor':'middle', fill:'#222', textLength:15}, 'facet-x-tick-label');
    txt(g, cXLabels[1], {x:lay.l1, y:2410, 'font-size':29, 'text-anchor':'middle', fill:'#222', textLength:41}, 'facet-x-tick-label');
  });
  rowLabels.forEach((lab, r) => {
    txt(g, lab, {x:174, y:cRowY(r) + 10, 'font-size':29, 'text-anchor':'end', fill:'#222', textLength: lab.length * 14.5}, 'y-tick-label');
  });
}
drawPanelB();
drawPanelC();
</script>
</body>
</html>
